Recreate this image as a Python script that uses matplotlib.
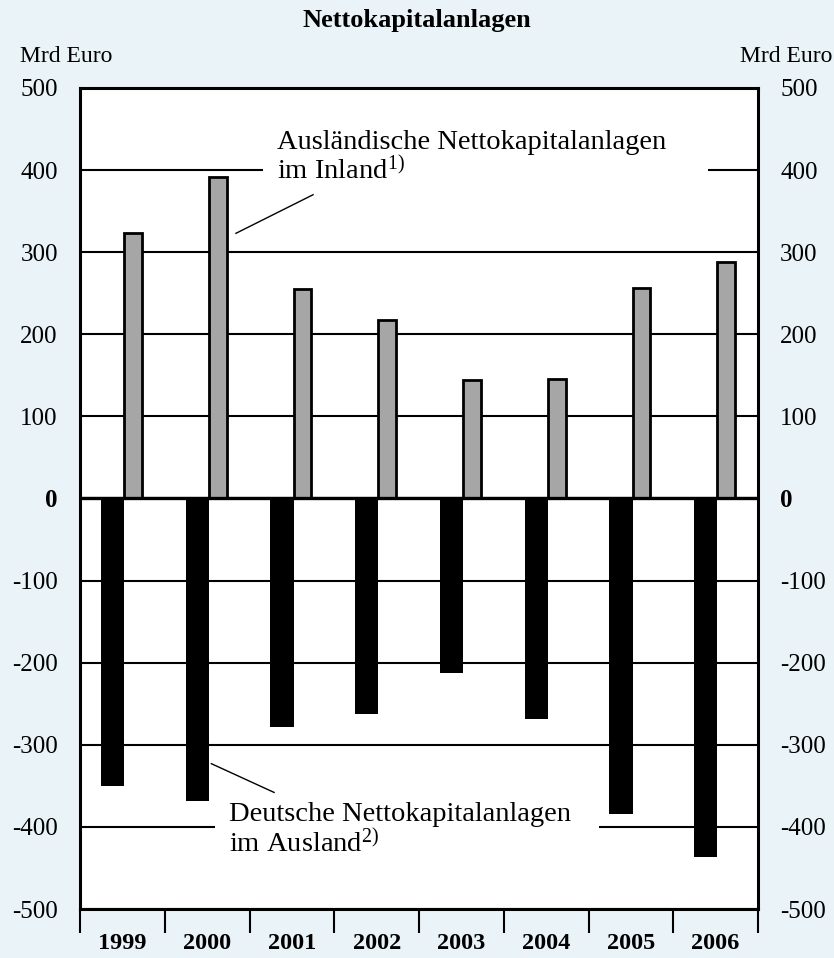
import matplotlib
matplotlib.use("Agg")
import matplotlib.pyplot as plt
import numpy as np

# data (Mrd Euro)
years = ["1999", "2000", "2001", "2002", "2003", "2004", "2005", "2006"]
inland = [323, 392, 255, 217, 144, 145, 257, 288]          # Auslaendische Nettokapitalanlagen im Inland
ausland = [-350, -368, -278, -262, -212, -269, -384, -437]  # Deutsche Nettokapitalanlagen im Ausland
yticks = [500, 400, 300, 200, 100, 0, -100, -200, -300, -400, -500]
ytick_labels = ["500", "400", "300", "200", "100", "0", "-100", "-200", "-300", "-400", "-500"]

# label positions (data coords) for the two callouts
upper_text_xy = (1.82, 415)
upper_leader_x = [2.25, 1.34]
upper_leader_y = [370, 323]
lower_text_xy = (1.26, -404)
lower_leader_x = [1.05, 1.79]
lower_leader_y = [-323, -358]

plt.rcParams['font.family'] = ['Liberation Serif', 'DejaVu Serif']
plt.rcParams['mathtext.default'] = 'regular'

bg = '#EAF3F7'
fig = plt.figure(figsize=(8.34, 9.58), dpi=100)
fig.patch.set_facecolor(bg)
ax = fig.add_axes([80/834, 1-909/958, 678/834, 821/958])
ax.set_facecolor('white')

x = np.arange(len(years))
ax.bar(x - 0.255, ausland, width=0.275, align='edge', color='black', zorder=3)
ax.bar(x + 0.02, inland, width=0.21, align='edge', color='#A6A6A6',
       edgecolor='black', linewidth=2, zorder=3)

ax.set_xlim(-0.5, len(years) - 0.5)
ax.set_ylim(-500, 500)

ax.set_yticks(yticks, labels=ytick_labels)
ax.yaxis.grid(True, color='black', linewidth=1.5)
ax.set_axisbelow(True)
ax.tick_params(axis='y', length=0, pad=16, labelsize=18, labelright=True)
for t in ax.yaxis.get_major_ticks():
    if t.label1.get_text() == "0":
        t.label1.set_fontweight('bold')
        t.label2.set_fontweight('bold')
ax.axhline(0, color='black', linewidth=2.4, zorder=4)

# x axis: separators as major ticks, year labels as minor ticks
ax.set_xticks(np.arange(len(years) + 1) - 0.5)
ax.set_xticklabels([])
ax.tick_params(axis='x', which='major', direction='out', length=17, width=1.5)
ax.set_xticks(x, minor=True)
ax.set_xticklabels(years, minor=True, fontweight='bold', fontsize=17.5)
ax.tick_params(axis='x', which='minor', length=0, pad=17)

for s in ax.spines.values():
    s.set_linewidth(2.2)
    s.set_zorder(5)

# callouts
ax.text(upper_text_xy[0], upper_text_xy[1],
        "Ausländische Nettokapitalanlagen    \nim Inland$^{1)}$",
        fontsize=20.5, ha='left', va='center', linespacing=1.1, zorder=2.5,
        bbox=dict(facecolor='white', edgecolor='none', pad=10))
ax.plot(upper_leader_x, upper_leader_y, color='black', linewidth=1, zorder=3)
ax.text(lower_text_xy[0], lower_text_xy[1],
        "Deutsche Nettokapitalanlagen  \nim Ausland$^{2)}$",
        fontsize=20.5, ha='left', va='center', linespacing=1.1, zorder=2.5,
        bbox=dict(facecolor='white', edgecolor='none', pad=10))
ax.plot(lower_leader_x, lower_leader_y, color='black', linewidth=1, zorder=3)

fig.text(0.5, 1-20/958, "Nettokapitalanlagen", ha='center', va='center',
         fontsize=19, fontweight='bold')
fig.text(20/834, 1-56/958, "Mrd Euro", ha='left', va='center', fontsize=17)
fig.text(832/834, 1-56/958, "Mrd Euro", ha='right', va='center', fontsize=17)

fig.savefig("out.png", dpi=100, facecolor=bg)
